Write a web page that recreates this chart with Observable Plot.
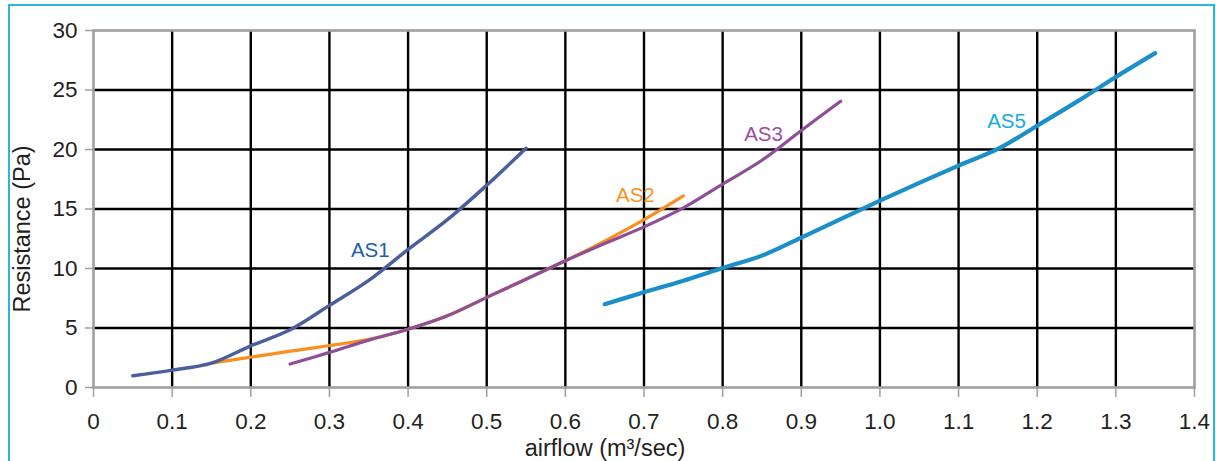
<!DOCTYPE html>
<html><head><meta charset="utf-8">
<script src="https://cdn.jsdelivr.net/npm/d3@7"></script>
<script src="https://cdn.jsdelivr.net/npm/@observablehq/plot@0.6"></script>
<style>
html,body{margin:0;padding:0;background:#fff;}
#wrap{position:relative;width:1216px;height:461px;overflow:hidden;}
#border{position:absolute;left:8px;top:4px;width:1207px;height:480px;border:2px solid #2cb3e6;box-sizing:border-box;}
#chart{position:absolute;left:0;top:0;}
</style></head><body><div id="wrap"><div id="border"></div><div id="chart"></div></div>
<script>
// ---- data ----
const as1X = [0.05,0.10,0.15,0.20,0.25,0.30,0.35,0.40,0.45,0.50,0.55];
const as1Y = [0.98,1.46,2.05,3.50,4.85,6.90,9.00,11.60,14.10,17.00,20.10];
const as2X = [0.15,0.25,0.35,0.40,0.45,0.50,0.55,0.60,0.65,0.70,0.75];
const as2Y = [2.05,3.05,4.05,4.90,6.03,7.57,9.10,10.65,12.30,14.10,16.10];
const as3X = [0.25,0.30,0.35,0.40,0.45,0.50,0.55,0.60,0.65,0.70,0.75,0.80,0.85,0.90,0.95];
const as3Y = [1.97,2.95,3.98,4.90,6.03,7.57,9.10,10.65,12.10,13.50,15.10,17.10,19.10,21.60,24.05];
const as5X = [0.65,0.70,0.75,0.80,0.85,0.90,0.95,1.00,1.05,1.10,1.15,1.20,1.25,1.30,1.35];
const as5Y = [7.00,8.00,8.97,10.04,11.08,12.60,14.15,15.70,17.20,18.65,20.05,22.00,24.00,26.10,28.10];
const seriesNames = ["AS1","AS2","AS3","AS5"];
const labelX = [0.352,0.689,0.852,1.161];
const labelY = [11.5,16.1,21.3,22.4];
const xTicks = [0,0.1,0.2,0.3,0.4,0.5,0.6,0.7,0.8,0.9,1.0,1.1,1.2,1.3,1.4];
const yTicks = [0,5,10,15,20,25,30];
const xGrid = [0.1,0.2,0.3,0.4,0.5,0.6,0.7,0.8,0.9,1.0,1.1,1.2,1.3];
const yGrid = [5,10,15,20,25];
const xTitle = "airflow (m³/sec)";
const yTitle = "Resistance (Pa)";

// ---- styles ----
const lineColor = {AS1:"#4a5f9c", AS2:"#f7901e", AS3:"#8f4f98", AS5:"#1b8fca"};
const textColor = {AS1:"#1d5fa9", AS2:"#f7941d", AS3:"#9c4e9e", AS5:"#14ace3"};
const lineWidth = {AS1:3.5, AS2:3.2, AS3:3.2, AS5:4.2};

const toRows = (name, xs, ys) => xs.map((x,i) => ({series:name, x, y:ys[i]}));
const rows = {
  AS1: toRows("AS1", as1X, as1Y),
  AS2: toRows("AS2", as2X, as2Y),
  AS3: toRows("AS3", as3X, as3Y),
  AS5: toRows("AS5", as5X, as5Y)
};
const labels = seriesNames.map((s,i) => ({series:s, x:labelX[i], y:labelY[i]}));
const font = "Liberation Sans, Arial, Helvetica, sans-serif";
const gray = "#a39e9c";
const ink = "#231f20";

const lineMark = (s) => Plot.line(rows[s], {x:"x", y:"y", stroke:lineColor[s], strokeWidth:lineWidth[s], curve:"catmull-rom", strokeLinecap:"round", strokeLinejoin:"round"});

const chart = Plot.plot({
  width:1216, height:461,
  marginLeft:93, marginRight:22, marginTop:30, marginBottom:74,
  x:{domain:[0,1.4]},
  y:{domain:[0,30]},
  style:{fontFamily:font, fontSize:"22px", color:ink, background:"transparent", overflow:"visible"},
  marks:[
    Plot.ruleX(xGrid, {stroke:"#000", strokeWidth:2.4}),
    Plot.ruleY(yGrid, {stroke:"#000", strokeWidth:2.4}),
    Plot.frame({stroke:gray, strokeWidth:2.6}),
    Plot.axisX({ticks:xTicks, tickSize:10, tickPadding:16, stroke:gray, strokeWidth:1.5, fill:ink, fontSize:22.5,
      tickFormat:d => d === 0 ? "0" : d3.format(".1f")(d), label:null}),
    Plot.axisY({ticks:yTicks, tickSize:8, tickPadding:8, stroke:gray, strokeWidth:1.5, fill:ink, fontSize:22.5, label:null}),
    lineMark("AS2"),
    lineMark("AS1"),
    lineMark("AS3"),
    lineMark("AS5"),
    Plot.text(labels, {x:"x", y:"y", text:"series", fill:d => textColor[d.series], fontSize:20.5}),
    Plot.text([yTitle], {frameAnchor:"left", textAnchor:"middle", lineAnchor:"middle", dx:-71, dy:20, rotate:-90, fontSize:23.5, fill:ink}),
    Plot.text([xTitle], {frameAnchor:"bottom", textAnchor:"middle", lineAnchor:"middle", dx:-39, dy:60.5, fontSize:23.5, fill:ink})
  ]
});
document.getElementById("chart").appendChild(chart);
</script>
</body></html>
